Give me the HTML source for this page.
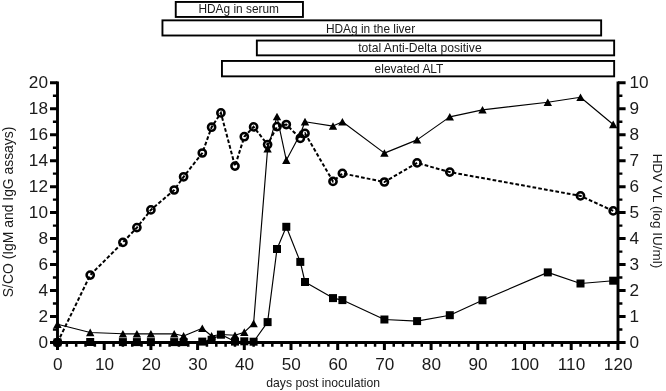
<!DOCTYPE html>
<html><head><meta charset="utf-8"><title>chart</title>
<style>html,body{margin:0;padding:0;background:#fff}svg{display:block}text{font-family:"Liberation Sans",Arial,Helvetica,sans-serif;fill:#1a1a1a}</style></head><body>
<svg width="666" height="391" viewBox="0 0 666 391">
<rect width="666" height="391" fill="#fff"/>
<rect x="175.75" y="1.95" width="127.20" height="15.00" fill="#fff" stroke="#000" stroke-width="1.9"/>
<text x="238.7" y="12.7" font-size="11.9" text-anchor="middle">HDAg in serum</text>
<rect x="162.45" y="20.35" width="438.70" height="15.15" fill="#fff" stroke="#000" stroke-width="1.9"/>
<text x="370.5" y="32.6" font-size="11.9" text-anchor="middle">HDAg in the liver</text>
<rect x="256.85" y="40.55" width="357.30" height="14.80" fill="#fff" stroke="#000" stroke-width="1.9"/>
<text x="419.9" y="52.4" font-size="12.15" text-anchor="middle">total Anti-Delta positive</text>
<rect x="221.95" y="60.95" width="392.20" height="15.40" fill="#fff" stroke="#000" stroke-width="1.9"/>
<text x="409.0" y="72.8" font-size="11.95" text-anchor="middle">elevated ALT</text>
<g stroke="#000" fill="none">
<path d="M57.50 81.45V343.80" stroke-width="2.9"/>
<path d="M56.20 342.50H619.20" stroke-width="2.9"/>
<path d="M618.00 81.45V343.80" stroke-width="2.9"/>
<path d="M50.00 342.50H57.50M50.00 316.52H57.50M50.00 290.55H57.50M50.00 264.57H57.50M50.00 238.60H57.50M50.00 212.62H57.50M50.00 186.65H57.50M50.00 160.67H57.50M50.00 134.70H57.50M50.00 108.72H57.50M50.00 82.75H57.50" stroke-width="3.0"/>
<path d="M52.90 329.51H57.50M52.90 303.54H57.50M52.90 277.56H57.50M52.90 251.59H57.50M52.90 225.61H57.50M52.90 199.64H57.50M52.90 173.66H57.50M52.90 147.69H57.50M52.90 121.71H57.50M52.90 95.74H57.50" stroke-width="2.4"/>
<path d="M618.00 342.50H625.60M618.00 316.52H625.60M618.00 290.55H625.60M618.00 264.57H625.60M618.00 238.60H625.60M618.00 212.62H625.60M618.00 186.65H625.60M618.00 160.67H625.60M618.00 134.70H625.60M618.00 108.72H625.60M618.00 82.75H625.60" stroke-width="3.0"/>
<path d="M618.00 329.51H622.40M618.00 303.54H622.40M618.00 277.56H622.40M618.00 251.59H622.40M618.00 225.61H622.40M618.00 199.64H622.40M618.00 173.66H622.40M618.00 147.69H622.40M618.00 121.71H622.40M618.00 95.74H622.40" stroke-width="2.4"/>
<path d="M57.50 342.50V349.90M104.20 342.50V349.90M150.90 342.50V349.90M197.60 342.50V349.90M244.30 342.50V349.90M291.00 342.50V349.90M337.70 342.50V349.90M384.40 342.50V349.90M431.10 342.50V349.90M477.80 342.50V349.90M524.50 342.50V349.90M571.20 342.50V349.90M617.90 342.50V349.90" stroke-width="3.0"/>
<path d="M66.84 342.50V346.80M76.18 342.50V346.80M85.52 342.50V346.80M94.86 342.50V346.80M113.54 342.50V346.80M122.88 342.50V346.80M132.22 342.50V346.80M141.56 342.50V346.80M160.24 342.50V346.80M169.58 342.50V346.80M178.92 342.50V346.80M188.26 342.50V346.80M206.94 342.50V346.80M216.28 342.50V346.80M225.62 342.50V346.80M234.96 342.50V346.80M253.64 342.50V346.80M262.98 342.50V346.80M272.32 342.50V346.80M281.66 342.50V346.80M300.34 342.50V346.80M309.68 342.50V346.80M319.02 342.50V346.80M328.36 342.50V346.80M347.04 342.50V346.80M356.38 342.50V346.80M365.72 342.50V346.80M375.06 342.50V346.80M393.74 342.50V346.80M403.08 342.50V346.80M412.42 342.50V346.80M421.76 342.50V346.80M440.44 342.50V346.80M449.78 342.50V346.80M459.12 342.50V346.80M468.46 342.50V346.80M487.14 342.50V346.80M496.48 342.50V346.80M505.82 342.50V346.80M515.16 342.50V346.80M533.84 342.50V346.80M543.18 342.50V346.80M552.52 342.50V346.80M561.86 342.50V346.80M580.54 342.50V346.80M589.88 342.50V346.80M599.22 342.50V346.80M608.56 342.50V346.80" stroke-width="2.5"/>
</g>
<text transform="translate(48.0 347.8) scale(1.055 1)" font-size="16.3" text-anchor="end">0</text>
<text transform="translate(48.0 321.8) scale(1.055 1)" font-size="16.3" text-anchor="end">2</text>
<text transform="translate(48.0 295.9) scale(1.055 1)" font-size="16.3" text-anchor="end">4</text>
<text transform="translate(48.0 269.9) scale(1.055 1)" font-size="16.3" text-anchor="end">6</text>
<text transform="translate(48.0 243.9) scale(1.055 1)" font-size="16.3" text-anchor="end">8</text>
<text transform="translate(48.0 217.9) scale(1.055 1)" font-size="16.3" text-anchor="end">10</text>
<text transform="translate(48.0 191.9) scale(1.055 1)" font-size="16.3" text-anchor="end">12</text>
<text transform="translate(48.0 166.0) scale(1.055 1)" font-size="16.3" text-anchor="end">14</text>
<text transform="translate(48.0 140.0) scale(1.055 1)" font-size="16.3" text-anchor="end">16</text>
<text transform="translate(48.0 114.0) scale(1.055 1)" font-size="16.3" text-anchor="end">18</text>
<text transform="translate(48.0 88.0) scale(1.055 1)" font-size="16.3" text-anchor="end">20</text>
<text transform="translate(629.5 347.8) scale(1.055 1)" font-size="16.3">0</text>
<text transform="translate(629.5 321.8) scale(1.055 1)" font-size="16.3">1</text>
<text transform="translate(629.5 295.9) scale(1.055 1)" font-size="16.3">2</text>
<text transform="translate(629.5 269.9) scale(1.055 1)" font-size="16.3">3</text>
<text transform="translate(629.5 243.9) scale(1.055 1)" font-size="16.3">4</text>
<text transform="translate(629.5 217.9) scale(1.055 1)" font-size="16.3">5</text>
<text transform="translate(629.5 191.9) scale(1.055 1)" font-size="16.3">6</text>
<text transform="translate(629.5 166.0) scale(1.055 1)" font-size="16.3">7</text>
<text transform="translate(629.5 140.0) scale(1.055 1)" font-size="16.3">8</text>
<text transform="translate(629.5 114.0) scale(1.055 1)" font-size="16.3">9</text>
<text transform="translate(629.5 88.0) scale(1.055 1)" font-size="16.3">10</text>
<text transform="translate(57.8 369.5) scale(1.055 1)" font-size="16.3" text-anchor="middle">0</text>
<text transform="translate(104.5 369.5) scale(1.055 1)" font-size="16.3" text-anchor="middle">10</text>
<text transform="translate(151.2 369.5) scale(1.055 1)" font-size="16.3" text-anchor="middle">20</text>
<text transform="translate(197.9 369.5) scale(1.055 1)" font-size="16.3" text-anchor="middle">30</text>
<text transform="translate(244.6 369.5) scale(1.055 1)" font-size="16.3" text-anchor="middle">40</text>
<text transform="translate(291.3 369.5) scale(1.055 1)" font-size="16.3" text-anchor="middle">50</text>
<text transform="translate(338.0 369.5) scale(1.055 1)" font-size="16.3" text-anchor="middle">60</text>
<text transform="translate(384.7 369.5) scale(1.055 1)" font-size="16.3" text-anchor="middle">70</text>
<text transform="translate(431.4 369.5) scale(1.055 1)" font-size="16.3" text-anchor="middle">80</text>
<text transform="translate(478.1 369.5) scale(1.055 1)" font-size="16.3" text-anchor="middle">90</text>
<text transform="translate(524.8 369.5) scale(1.055 1)" font-size="16.3" text-anchor="middle">100</text>
<text transform="translate(571.5 369.5) scale(1.055 1)" font-size="16.3" text-anchor="middle">110</text>
<text transform="translate(618.2 369.5) scale(1.055 1)" font-size="16.3" text-anchor="middle">120</text>
<text x="323.2" y="386.7" font-size="12.2" text-anchor="middle">days post inoculation</text>
<text transform="translate(12.9 211.9) rotate(-90) scale(0.975 1)" font-size="14.25" text-anchor="middle">S/CO (IgM and IgG assays)</text>
<text transform="translate(653.1 211) rotate(90)" font-size="13.5" text-anchor="middle">HDV VL (log IU/ml)</text>
<polyline points="57.5,324.3 90.2,332.5 122.9,333.8 136.9,333.8 150.9,333.8 174.2,333.8 183.6,336.0 202.3,328.3 211.6,336.0 220.9,334.5 235.0,335.3 244.3,332.2 253.6,323.5 267.6,148.9 277.0,116.6 286.3,160.2 300.3,134.0 305.0,121.7 333.0,126.1 342.4,121.8 384.4,153.1 417.1,139.9 449.8,116.9 482.5,109.9 547.8,102.3 580.5,97.3 613.2,124.5" fill="none" stroke="#000" stroke-width="1.15" stroke-linejoin="round"/>
<polyline points="57.5,342.4 90.2,342.0 122.9,342.1 136.9,342.1 150.9,342.1 174.2,342.1 183.6,342.1 202.3,341.6 211.6,339.8 220.9,334.6 235.0,341.6 244.3,341.3 253.6,341.7 267.6,322.1 277.0,249.0 286.3,226.8 300.3,261.9 305.0,282.0 333.0,298.1 342.4,300.1 384.4,319.5 417.1,321.1 449.8,315.2 482.5,300.3 547.8,272.4 580.5,283.5 613.2,280.7" fill="none" stroke="#000" stroke-width="1.15" stroke-linejoin="round"/>
<polyline points="57.5,342.5 90.2,275.1 122.9,242.4 136.9,227.6 150.9,209.9 174.2,190.0 183.6,176.8 202.3,153.0 211.6,127.2 220.9,112.9 235.0,166.1 244.3,136.7 253.6,126.9 267.6,144.6 277.0,126.6 286.3,124.5 300.3,138.4 305.0,133.4 333.0,181.4 342.4,173.4 384.4,182.0 417.1,162.9 449.8,172.1 580.5,195.9 613.2,210.9" fill="none" stroke="#000" stroke-width="2.0" stroke-dasharray="3.7 2.1"/>
<g fill="#000"><rect x="53.5" y="338.4" width="8" height="8"/><rect x="86.2" y="338.0" width="8" height="8"/><rect x="118.9" y="338.1" width="8" height="8"/><rect x="132.9" y="338.1" width="8" height="8"/><rect x="146.9" y="338.1" width="8" height="8"/><rect x="170.2" y="338.1" width="8" height="8"/><rect x="179.6" y="338.1" width="8" height="8"/><rect x="198.3" y="337.6" width="8" height="8"/><rect x="207.6" y="335.8" width="8" height="8"/><rect x="216.9" y="330.6" width="8" height="8"/><rect x="231.0" y="337.6" width="8" height="8"/><rect x="240.3" y="337.3" width="8" height="8"/><rect x="249.6" y="337.7" width="8" height="8"/><rect x="263.6" y="318.1" width="8" height="8"/><rect x="273.0" y="245.0" width="8" height="8"/><rect x="282.3" y="222.8" width="8" height="8"/><rect x="296.3" y="257.9" width="8" height="8"/><rect x="301.0" y="278.0" width="8" height="8"/><rect x="329.0" y="294.1" width="8" height="8"/><rect x="338.4" y="296.1" width="8" height="8"/><rect x="380.4" y="315.5" width="8" height="8"/><rect x="413.1" y="317.1" width="8" height="8"/><rect x="445.8" y="311.2" width="8" height="8"/><rect x="478.5" y="296.3" width="8" height="8"/><rect x="543.8" y="268.4" width="8" height="8"/><rect x="576.5" y="279.5" width="8" height="8"/><rect x="609.2" y="276.7" width="8" height="8"/></g>
<path d="M57.5 320.4L61.7 328.0H53.3ZM90.2 328.6L94.4 336.2H86.0ZM122.9 329.9L127.1 337.5H118.7ZM136.9 329.9L141.1 337.5H132.7ZM150.9 329.9L155.1 337.5H146.7ZM174.2 329.9L178.4 337.5H170.1ZM183.6 332.1L187.8 339.7H179.4ZM202.3 324.4L206.5 332.0H198.1ZM211.6 332.1L215.8 339.7H207.4ZM220.9 330.6L225.1 338.2H216.8ZM235.0 331.4L239.2 339.0H230.8ZM244.3 328.3L248.5 335.9H240.1ZM253.6 319.6L257.8 327.2H249.4ZM267.6 145.0L271.8 152.6H263.4ZM277.0 112.7L281.2 120.3H272.8ZM286.3 156.3L290.5 163.9H282.1ZM300.3 130.1L304.5 137.7H296.1ZM305.0 117.8L309.2 125.4H300.8ZM333.0 122.2L337.2 129.8H328.8ZM342.4 117.9L346.6 125.5H338.2ZM384.4 149.2L388.6 156.8H380.2ZM417.1 136.0L421.3 143.6H412.9ZM449.8 113.0L454.0 120.6H445.6ZM482.5 106.0L486.7 113.6H478.3ZM547.8 98.4L552.0 106.0H543.6ZM580.5 93.4L584.7 101.0H576.3ZM613.2 120.6L617.4 128.2H609.0Z" fill="#000"/>
<g fill="none" stroke="#000" stroke-width="2.55"><circle cx="57.5" cy="342.5" r="3.6"/><circle cx="90.2" cy="275.1" r="3.6"/><circle cx="122.9" cy="242.4" r="3.6"/><circle cx="136.9" cy="227.6" r="3.6"/><circle cx="150.9" cy="209.9" r="3.6"/><circle cx="174.2" cy="190.0" r="3.6"/><circle cx="183.6" cy="176.8" r="3.6"/><circle cx="202.3" cy="153.0" r="3.6"/><circle cx="211.6" cy="127.2" r="3.6"/><circle cx="220.9" cy="112.9" r="3.6"/><circle cx="235.0" cy="166.1" r="3.6"/><circle cx="244.3" cy="136.7" r="3.6"/><circle cx="253.6" cy="126.9" r="3.6"/><circle cx="267.6" cy="144.6" r="3.6"/><circle cx="277.0" cy="126.6" r="3.6"/><circle cx="286.3" cy="124.5" r="3.6"/><circle cx="300.3" cy="138.4" r="3.6"/><circle cx="305.0" cy="133.4" r="3.6"/><circle cx="333.0" cy="181.4" r="3.6"/><circle cx="342.4" cy="173.4" r="3.6"/><circle cx="384.4" cy="182.0" r="3.6"/><circle cx="417.1" cy="162.9" r="3.6"/><circle cx="449.8" cy="172.1" r="3.6"/><circle cx="580.5" cy="195.9" r="3.6"/><circle cx="613.2" cy="210.9" r="3.6"/></g>
</svg></body></html>
